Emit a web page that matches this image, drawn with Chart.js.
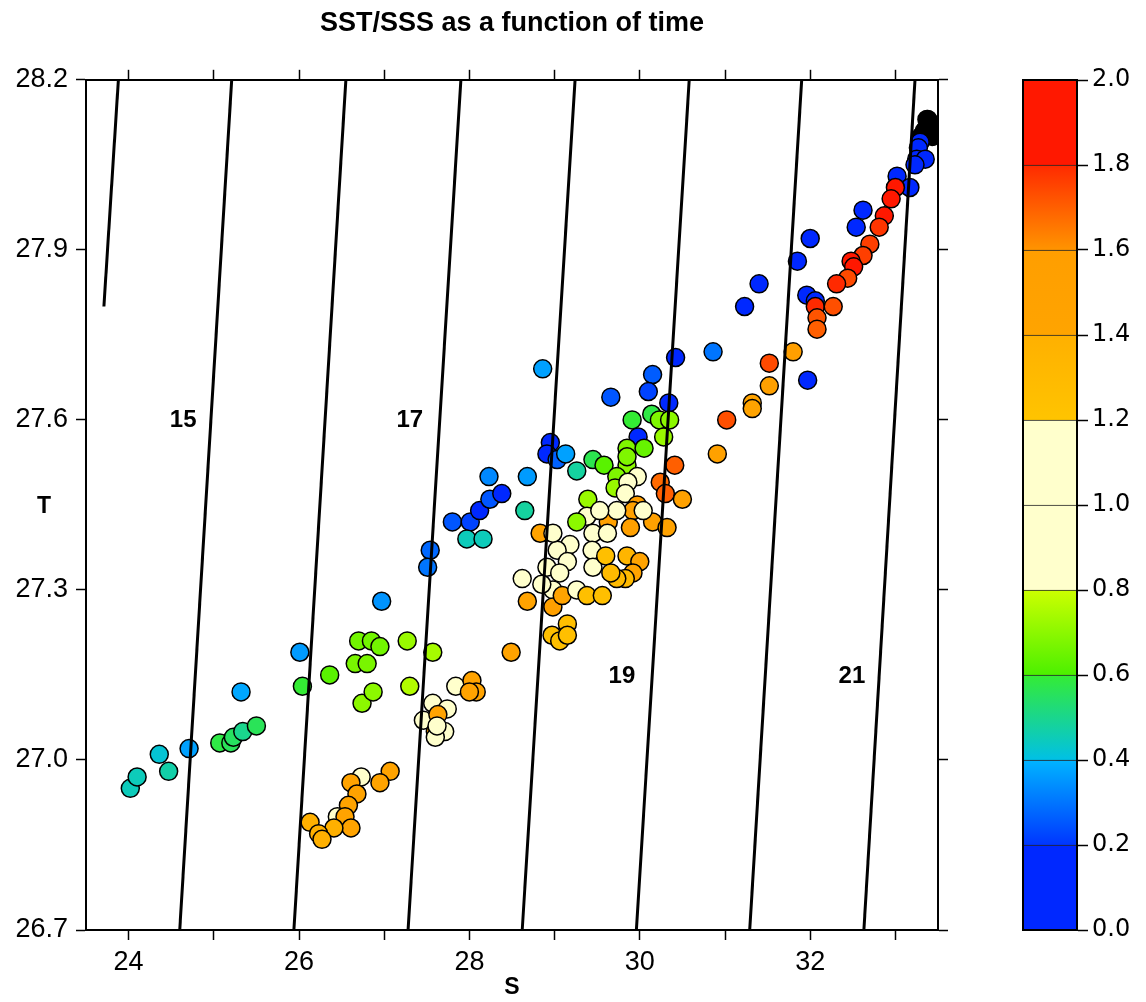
<!DOCTYPE html>
<html>
<head>
<meta charset="utf-8">
<script src="https://cdn.jsdelivr.net/npm/chart.js@4.4.1/dist/chart.umd.min.js"></script>
<style>
  body { margin: 0; background: #fff; }
  #lienzo { position: relative; width: 1146px; height: 1002px; }
  #cajaTS { position: absolute; left: 0; top: 0; width: 1146px; height: 1002px; }
  #cajaEscala { position: absolute; left: 1022px; top: 0; width: 124px; height: 1002px; }
</style>
</head>
<body>
<div id="lienzo">
  <div id="cajaTS"><canvas id="graficaTS"></canvas></div>
  <div id="cajaEscala"><canvas id="graficaEscala"></canvas></div>
</div>
<script>
// salinidad (S), temperatura (T) y tiempo (color) de cada medida
const salinidad = [
  33.37, 33.41, 33.34, 33.30, 33.43, 33.38, 33.46,
  24.02, 24.10, 24.36, 24.47, 24.71, 25.07, 25.20, 25.23, 25.34, 25.50,
  25.32, 26.01, 26.04, 26.36, 26.70, 26.85, 26.95, 26.66, 26.80, 27.27,
  27.57, 26.74, 26.87, 27.30, 26.97, 27.54, 27.51,
  27.07, 26.95, 26.73, 26.61, 26.68, 26.58, 26.45, 26.54, 26.61, 26.41,
  26.13, 26.23, 26.27,
  27.84, 28.03, 28.08, 28.00, 27.57, 27.74, 27.46, 27.63, 27.60, 27.71,
  27.60, 27.62, 28.49,
  28.86, 29.66, 30.15, 30.10, 30.42, 30.86, 30.34, 30.14, 29.91, 30.23,
  30.35, 30.28, 29.98, 29.85, 30.05, 29.85, 29.85, 28.95, 28.91, 29.03,
  29.13, 29.26, 29.45, 29.58, 29.73, 29.71, 29.97, 30.41, 30.24, 30.30,
  30.50, 30.91, 29.86, 29.83, 29.97, 29.92, 30.15, 30.32, 29.89, 30.04,
  29.63, 29.73, 29.39, 29.38, 29.53, 29.26, 29.45, 29.62, 29.18, 29.03,
  29.44, 29.15, 28.91, 29.06, 29.45, 28.98, 28.85, 28.62, 28.83, 28.98,
  28.68, 28.98, 29.09, 29.26, 29.38, 29.56, 29.60, 29.85, 30.00, 29.92,
  29.83, 29.73, 29.66, 29.15, 28.97, 29.06, 29.15,
  27.80, 28.01, 28.12, 28.24, 28.38, 28.23, 28.68, 28.65, 27.97, 28.16,
  33.29, 33.27, 33.25, 33.35, 33.23, 33.02, 33.17, 33.00, 32.95, 32.87,
  32.81, 32.70, 32.62, 32.48, 32.51, 32.44, 32.31, 32.62, 32.54, 32.00,
  31.85, 31.40, 31.23, 31.96, 32.06, 32.06, 32.08, 32.08, 32.27, 31.80,
  31.52, 31.52, 31.32, 31.32, 31.97, 31.02
];
const temperatura = [
  28.13, 28.12, 28.11, 28.10, 28.10, 28.13, 28.12,
  26.95, 26.97, 27.01, 26.98, 27.02, 27.03, 27.03, 27.04, 27.05, 27.06,
  27.12, 27.19, 27.13, 27.15, 27.21, 27.21, 27.20, 27.17, 27.17, 27.21,
  27.19, 27.10, 27.12, 27.13, 27.28, 27.37, 27.34,
  26.98, 26.96, 26.97, 26.96, 26.94, 26.92, 26.90, 26.90, 26.88, 26.88,
  26.89, 26.87, 26.86,
  27.13, 27.14, 27.12, 27.12, 27.10, 27.09, 27.07, 27.08, 27.05, 27.05,
  27.04, 27.06, 27.19,
  27.69, 27.64, 27.68, 27.65, 27.71, 27.72, 27.63, 27.61, 27.60, 27.60,
  27.60, 27.57, 27.57, 27.55, 27.55, 27.52, 27.535, 27.56, 27.54, 27.53,
  27.54, 27.51, 27.53, 27.52, 27.50, 27.48, 27.50, 27.52, 27.49, 27.47,
  27.46, 27.54, 27.49, 27.47, 27.45, 27.44, 27.42, 27.41, 27.41, 27.44,
  27.42, 27.44, 27.46, 27.43, 27.44, 27.42, 27.40, 27.40, 27.38, 27.37,
  27.37, 27.35, 27.34, 27.33, 27.34, 27.30, 27.31, 27.32, 27.40, 27.40,
  27.28, 27.27, 27.29, 27.30, 27.29, 27.29, 27.36, 27.36, 27.35, 27.33,
  27.32, 27.32, 27.33, 27.24, 27.22, 27.21, 27.22,
  27.42, 27.42, 27.44, 27.46, 27.47, 27.50, 27.50, 27.44, 27.39, 27.39,
  28.09, 28.08, 28.06, 28.06, 28.05, 28.03, 28.01, 28.01, 27.99, 27.96,
  27.94, 27.91, 27.89, 27.88, 27.87, 27.85, 27.84, 27.97, 27.94, 27.92,
  27.88, 27.84, 27.80, 27.82, 27.81, 27.80, 27.78, 27.76, 27.80, 27.72,
  27.70, 27.66, 27.63, 27.62, 27.67, 27.60
];
const tiempo = [
  2.1, 2.1, 2.1, 2.1, 2.1, 2.1, 2.1,
  0.45, 0.45, 0.42, 0.47, 0.37, 0.58, 0.56, 0.55, 0.50, 0.56,
  0.38, 0.36, 0.60, 0.62, 0.66, 0.66, 0.66, 0.67, 0.67, 0.72,
  0.74, 0.70, 0.70, 0.76, 0.35, 0.28, 0.30,
  1.45, 1.45, 1.00, 1.45, 1.45, 1.45, 1.00, 1.45, 1.45, 1.40,
  1.40, 1.40, 1.40,
  1.00, 1.45, 1.45, 1.45, 1.00, 1.00, 1.00, 1.45, 1.45, 1.00,
  1.00, 1.00, 1.45,
  0.37, 0.25, 0.26, 0.22, 0.15, 0.30, 0.15, 0.58, 0.60, 0.68,
  0.70, 0.72, 0.20, 0.68, 0.64, 0.70, 0.68, 0.15, 0.15, 0.27,
  0.37, 0.48, 0.57, 0.62, 0.68, 0.72, 1.00, 1.70, 1.68, 1.70,
  1.50, 1.50, 1.00, 1.00, 1.60, 1.50, 1.50, 1.48, 1.55, 1.00,
  1.50, 1.00, 0.72, 1.00, 1.00, 0.70, 1.00, 1.00, 1.00, 1.00,
  1.00, 1.00, 1.00, 1.00, 1.00, 1.00, 1.00, 1.00, 1.45, 1.00,
  1.45, 1.55, 1.45, 1.00, 1.25, 1.25, 1.25, 1.35, 1.45, 1.45,
  1.30, 1.30, 1.30, 1.25, 1.25, 1.25, 1.25,
  0.25, 0.22, 0.15, 0.25, 0.20, 0.33, 0.36, 0.48, 0.45, 0.45,
  0.15, 0.15, 0.18, 0.15, 0.15, 0.15, 0.20, 1.88, 1.85, 1.82,
  1.78, 1.76, 1.76, 1.85, 1.85, 1.74, 1.80, 0.15, 0.15, 0.15,
  0.15, 0.15, 0.15, 0.15, 0.18, 1.80, 1.72, 1.70, 1.73, 1.58,
  1.74, 1.52, 1.45, 1.45, 0.15, 1.73
];

// isolineas de densidad (sigma-t): extremo inferior y superior de cada recta
const sigmaNiveles = [14, 15, 16, 17, 18, 19, 20, 21];
const sigmaSInf = [23.71, 24.60, 25.94, 27.28, 28.62, 29.96, 31.29, 32.63];
const sigmaTInf = [27.80, 26.7, 26.7, 26.7, 26.7, 26.7, 26.7, 26.7];
const sigmaSSup = [23.88, 25.21, 26.55, 27.90, 29.24, 30.58, 31.90, 33.23];
const sigmaTSup = [28.2, 28.2, 28.2, 28.2, 28.2, 28.2, 28.2, 28.2];
const sigmaRotulos = ['15', '17', '19', '21'];
const sigmaRotuloS = [24.64, 27.30, 29.79, 32.49];
const sigmaRotuloT = [27.60, 27.60, 27.147, 27.147];

// ejes
const ticksS = [24, 25, 26, 27, 28, 29, 30, 31, 32, 33];
const ticksT = [26.7, 27.0, 27.3, 27.6, 27.9, 28.2];
const ticksEscala = [0, 0.2, 0.4, 0.6, 0.8, 1.0, 1.2, 1.4, 1.6, 1.8, 2.0];

// paleta por tramos
const cptDesde = [0, 0.2, 0.4, 0.6, 0.8, 1.0, 1.2, 1.4, 1.6, 1.8];
const cptHasta = [0.2, 0.4, 0.6, 0.8, 1.0, 1.2, 1.4, 1.6, 1.8, 2.0];
const cptColorDesde = ['#0028ff', '#0036ff', '#00c0e6', '#4cf000', '#ffffcc', '#ffffcc', '#ffc400', '#ffa400', '#ff9400', '#ff1800'];
const cptColorHasta = ['#0028ff', '#00b4ff', '#34ec34', '#ccff00', '#ffffcc', '#ffffcc', '#ffb000', '#ff9e00', '#ff2a00', '#ff1800'];

const fuente = 'Liberation Sans, Arial, sans-serif';

function hexARgb(h) {
  return [parseInt(h.slice(1, 3), 16), parseInt(h.slice(3, 5), 16), parseInt(h.slice(5, 7), 16)];
}

function colorTiempo(v) {
  if (v > 2) return '#000000';
  for (let i = 0; i < cptDesde.length; i++) {
    if (v <= cptHasta[i]) {
      const f = (v - cptDesde[i]) / (cptHasta[i] - cptDesde[i]);
      const a = hexARgb(cptColorDesde[i]);
      const b = hexARgb(cptColorHasta[i]);
      const c = a.map((x, k) => Math.round(x + (b[k] - x) * f));
      return 'rgb(' + c.join(',') + ')';
    }
  }
  return '#000000';
}

const rotulosSigma = {
  id: 'rotulosSigma',
  afterDatasetsDraw(chart) {
    const { ctx, chartArea, scales: { x, y } } = chart;
    ctx.save();
    ctx.fillStyle = '#000';
    ctx.textAlign = 'center';
    ctx.textBaseline = 'middle';
    ctx.font = 'bold 24px ' + fuente;
    sigmaRotulos.forEach((t, i) => {
      ctx.fillText(t, x.getPixelForValue(sigmaRotuloS[i]), y.getPixelForValue(sigmaRotuloT[i]));
    });
    ctx.font = 'bold 23px ' + fuente;
    ctx.fillText('T', 44, (chartArea.top + chartArea.bottom) / 2 + 2);
    ctx.restore();
  }
};

// marco de la barra de color
const marcoEscala = {
  id: 'marcoEscala',
  afterDatasetsDraw(chart) {
    const { ctx, chartArea: a } = chart;
    ctx.save();
    ctx.strokeStyle = '#000';
    ctx.lineWidth = 2;
    ctx.strokeRect(a.left + 1, a.top, a.right - a.left - 2, a.bottom - a.top);
    ctx.restore();
  }
};

function ejeX(posicion, alto, conTexto) {
  return {
    type: 'linear',
    position: posicion,
    min: 23.5,
    max: 33.5,
    afterBuildTicks: (s) => { s.ticks = ticksS.map(v => ({ value: v })); },
    afterFit: (s) => { s.height = alto; },
    ticks: {
      display: conTexto,
      autoSkip: false,
      maxRotation: 0,
      padding: 6,
      color: '#000',
      font: { family: fuente, size: 27 },
      callback: (v) => (v % 2 === 0 ? String(v) : '')
    },
    grid: { drawOnChartArea: false, tickLength: 10, tickWidth: 1.5, color: '#000', tickColor: '#000' },
    border: { width: 2, color: '#000' },
    title: {
      display: conTexto,
      text: 'S',
      color: '#000',
      font: { family: fuente, size: 23, weight: 'bold' },
      padding: { top: 0, bottom: 1 }
    }
  };
}

function ejeY(posicion, ancho, conTexto) {
  return {
    type: 'linear',
    position: posicion,
    min: 26.7,
    max: 28.2,
    afterBuildTicks: (s) => { s.ticks = ticksT.map(v => ({ value: v })); },
    afterFit: (s) => { s.width = ancho; },
    ticks: {
      display: conTexto,
      padding: 8,
      color: '#000',
      font: { family: fuente, size: 27 },
      callback: (v) => v.toFixed(1)
    },
    grid: { drawOnChartArea: false, tickLength: 10, tickWidth: 1.5, color: '#000', tickColor: '#000' },
    border: { width: 2, color: '#000' }
  };
}

function crearGraficaTS() {
  const ctx = document.getElementById('graficaTS').getContext('2d');
  const puntos = salinidad.map((s, i) => ({ x: s, y: temperatura[i] }));
  const isolineas = sigmaNiveles.map((n, i) => ({
    label: 'sigma ' + n,
    data: [{ x: sigmaSInf[i], y: sigmaTInf[i] }, { x: sigmaSSup[i], y: sigmaTSup[i] }],
    showLine: true,
    borderColor: '#000',
    borderWidth: 3,
    pointRadius: 0,
    order: 0
  }));
  new Chart(ctx, {
    type: 'scatter',
    data: {
      datasets: [
        {
          label: 'SST/SSS',
          data: puntos,
          pointRadius: 9,
          pointBorderWidth: 1.5,
          pointBorderColor: '#000',
          pointBackgroundColor: tiempo.map(colorTiempo),
          order: 1
        },
        ...isolineas
      ]
    },
    options: {
      responsive: true,
      maintainAspectRatio: false,
      animation: false,
      events: [],
      layout: { padding: { left: 0, right: 196, top: 0, bottom: 0 } },
      scales: {
        x: ejeX('bottom', 72, true),
        x2: ejeX('top', 40.4, false),
        y: ejeY('left', 86, true),
        y2: ejeY('right', 12, false)
      },
      plugins: {
        legend: { display: false },
        tooltip: { enabled: false },
        title: {
          display: true,
          fullSize: false,
          text: 'SST/SSS as a function of time',
          color: '#000',
          font: { family: fuente, size: 27, weight: 'bold' },
          padding: { top: 7, bottom: 0 }
        }
      }
    },
    plugins: [rotulosSigma]
  });
}

function gradienteTramo(c, i) {
  const chart = c.chart;
  if (!chart.chartArea) return cptColorDesde[i];
  const y = chart.scales.y;
  const g = chart.ctx.createLinearGradient(0, y.getPixelForValue(cptDesde[i]), 0, y.getPixelForValue(cptHasta[i]));
  g.addColorStop(0, cptColorDesde[i]);
  g.addColorStop(1, cptColorHasta[i]);
  return g;
}

function crearEscalaColor() {
  const ctx = document.getElementById('graficaEscala').getContext('2d');
  new Chart(ctx, {
    type: 'bar',
    data: {
      labels: ['tiempo'],
      datasets: cptDesde.map((d, i) => ({
        label: d.toFixed(1),
        data: [cptHasta[i] - d],
        backgroundColor: (c) => gradienteTramo(c, i),
        borderColor: 'rgba(0,0,0,0.85)',
        borderWidth: { top: 1, bottom: 0, left: 0, right: 0 },
        borderSkipped: false,
        barPercentage: 1,
        categoryPercentage: 1
      }))
    },
    options: {
      responsive: true,
      maintainAspectRatio: false,
      animation: false,
      events: [],
      layout: { padding: { left: 0, right: 0, top: 80, bottom: 72 } },
      scales: {
        x: { display: false, stacked: true },
        y: {
          stacked: true,
          position: 'right',
          min: 0,
          max: 2,
          afterBuildTicks: (s) => { s.ticks = ticksEscala.map(v => ({ value: v })); },
          afterFit: (s) => { s.width = 68; },
          ticks: {
            padding: 4,
            color: '#000',
            font: { family: 'DejaVu Sans, sans-serif', size: 24 },
            callback: (v) => v.toFixed(1)
          },
          grid: { drawOnChartArea: false, tickLength: 10, tickWidth: 1.5, color: '#000', tickColor: '#000' },
          border: { display: false }
        }
      },
      plugins: {
        legend: { display: false },
        tooltip: { enabled: false }
      }
    },
    plugins: [marcoEscala]
  });
}

crearGraficaTS();
crearEscalaColor();
</script>
</body>
</html>
